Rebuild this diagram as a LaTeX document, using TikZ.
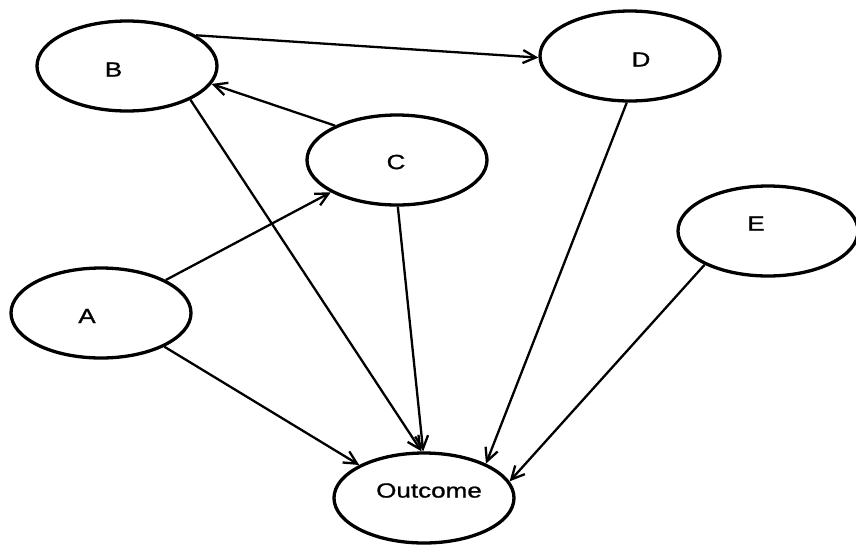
\documentclass[tikz,border=0pt]{standalone}
\usepackage{fontspec}
\setmainfont{Liberation Sans}
\newfontfamily\lblfont[FakeBold=0.9]{Liberation Sans}
\usepackage{graphicx}
\usetikzlibrary{shapes.geometric,arrows.meta}
\begin{document}
\begin{tikzpicture}[x=1pt,y=-1pt,
  var/.style={draw, ellipse, line width=3.3pt, minimum width=180pt, minimum height=90pt, inner sep=0pt},
  lbl/.style={inner sep=0pt, font=\lblfont\fontsize{20.5}{24}\selectfont},
  link/.style={line width=2.3pt, -{Straight Barb[length=13pt,width=13pt]}}]
\useasboundingbox (0,0) rectangle (856,547);
% variables
\node[var] (B) at (127,66) {};
\node[var] (D) at (630,56) {};
\node[var] (C) at (397,160) {};
\node[var] (E) at (768,231) {};
\node[var] (A) at (101,313) {};
\node[var] (O) at (424,498) {};
% labels
\node[lbl] (tB) at (113.5,69.5) {\scalebox{1.27}[1]{B}};
\node[lbl] (tD) at (641,59.5) {\scalebox{1.27}[1]{D}};
\node[lbl] (tC) at (396,162) {\scalebox{1.27}[1]{C}};
\node[lbl] (tE) at (756,223.5) {\scalebox{1.27}[1]{E}};
\node[lbl] (tA) at (87,316) {\scalebox{1.27}[1]{A}};
\node[lbl] (tO) at (429,490.5) {\scalebox{1.27}[1]{Outcome}};
% connectors
\draw[link] (B.24.5) -- (D.181);
\draw[link] (C.151.7) -- (B.-12);
\draw[link] (A.27.3) -- (C.206);
\draw[link] (A.-28) -- (O.153.6);
\draw[link] (B.-28.3) -- (O.93);
\draw[link] (C.-89) -- (O.91);
\draw[link] (D.-94) -- (O.29.5);
\draw[link] (E.208) -- (O.11.4);
\end{tikzpicture}
\end{document}
